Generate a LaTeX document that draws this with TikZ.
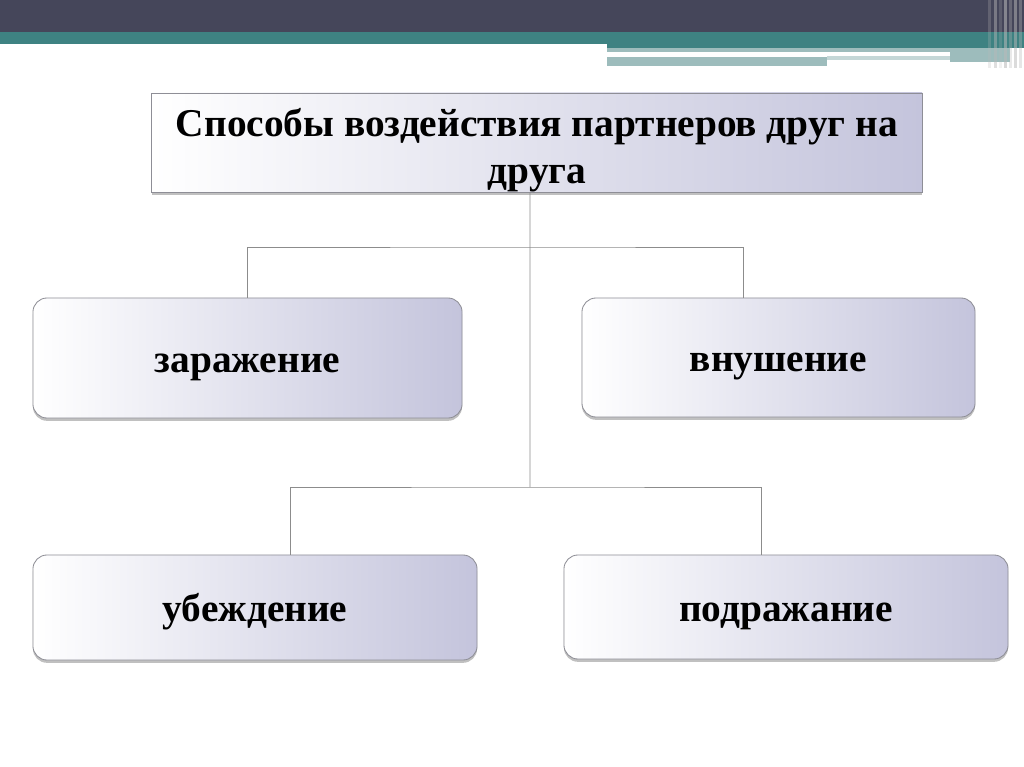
\documentclass[tikz,border=0pt]{standalone}
\usepackage{fontspec}
\setmainfont{Liberation Serif}
\usepackage{xcolor}
\usetikzlibrary{shadows}

\definecolor{barDark}{HTML}{45465A}
\definecolor{barTeal}{HTML}{3E8282}
\definecolor{barPale}{HTML}{9DBCBC}
\definecolor{boxEdge}{HTML}{8E8E96}
\definecolor{boxTint}{HTML}{C4C4DC}
\definecolor{linkGray}{HTML}{8C8C8C}

\begin{document}
\begin{tikzpicture}[
  x=0.025cm, y=-0.025cm,
  every node/.style={font=\fontsize{28}{33}\selectfont\bfseries},
  rootbox/.style={draw=boxEdge, line width=0.6pt, align=center, inner sep=0pt,
    left color=white, right color=boxTint,
    drop shadow={shadow xshift=0pt, shadow yshift=-2pt, opacity=0.35, fill=black!70}},
  sortbox/.style={rootbox, rounded corners=10pt, inner sep=4pt,
    text height=26pt, text depth=6pt},
  link/.style={draw=linkGray, line width=0.6pt}
]
% page and header bars
\useasboundingbox[fill=white] (0,0) rectangle (1024,767);
\fill[barDark] (0,0) rectangle (1024,32);
\fill[barTeal] (0,32) rectangle (1024,44);
\fill[barTeal] (607,44) rectangle (1024,48);
\fill[barPale] (607,48) rectangle (950,52);
\fill[barPale] (607,57) rectangle (827,66);
\fill[barPale!60] (827,56) rectangle (950,60);
\fill[barPale] (950,48) rectangle (1010,62);
\foreach \xs/\op in {988/0.25, 994/0.45, 999/0.2, 1004/0.55, 1009/0.3, 1014/0.5, 1019/0.35}
  \fill[gray!55, opacity=\op] (\xs,0) rectangle +(2.5,68);

% boxes
\node[rootbox, minimum width=19.25cm, minimum height=2.475cm] (root) at (537,142.5)
  {\rule{0pt}{31pt}Способы воздействия партнеров друг на\\друга};
\node[sortbox, minimum width=10.725cm, minimum height=3cm] (zar) at (247.5,358) {заражение};
\node[sortbox, minimum width=9.825cm, minimum height=2.975cm] (vnu) at (778.5,357.5) {внушение};
\node[sortbox, minimum width=11.1cm, minimum height=2.625cm] (ubz) at (255,607.5) {убеждение};
\node[sortbox, minimum width=11.1cm, minimum height=2.6cm] (pod) at (786,607) {подражание};

% connectors
\coordinate (hubA) at (530,247);
\coordinate (hubB) at (530,487);
\draw[link] ([xshift=-0.175cm]root.south) -- (hubB);
\draw[link] (zar.north) |- (hubA) -| ([xshift=-0.875cm]vnu.north);
\draw[link] ([xshift=0.875cm]ubz.north) |- (hubB) -| ([xshift=-0.625cm]pod.north);
\end{tikzpicture}
\end{document}
